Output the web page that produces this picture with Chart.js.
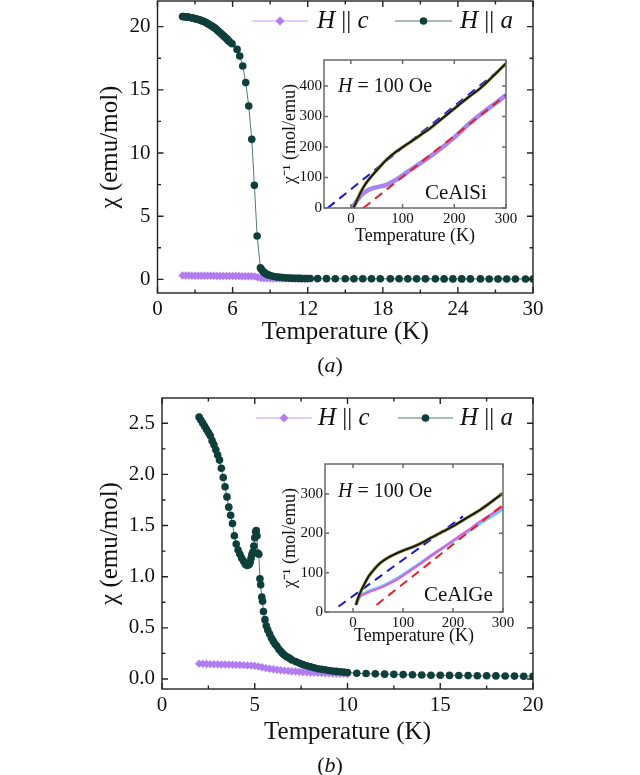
<!DOCTYPE html>
<html lang="en">
<head>
<meta charset="UTF-8">
<title>CeAlSi / CeAlGe susceptibility</title>
<style>
  body { margin: 0; background: #fff; width: 640px; height: 775px; position: relative; overflow: hidden;
         font-family: "Liberation Serif", "Times New Roman", serif; color: #111; }
  canvas { position: absolute; }
  .cap { position: absolute; width: 100px; text-align: center; font-size: 22px; line-height: 26px; }
</style>
<script src="https://cdn.jsdelivr.net/npm/chart.js"></script>
</head>
<body>
<canvas id="mainA" style="left:0;top:0" width="640" height="380"></canvas>
<canvas id="insetA" style="left:270px;top:48px" width="250" height="210"></canvas>
<div class="cap" style="left:280px;top:352px">(<i>a</i>)</div>
<canvas id="mainB" style="left:0;top:388px" width="640" height="387"></canvas>
<canvas id="insetB" style="left:270px;top:452px" width="250" height="210"></canvas>
<div class="cap" style="left:280px;top:752px">(<i>b</i>)</div>
<script>
// ---- panel (a): CeAlSi, chi vs T ----
const aT_Ha = [2.0,2.1,2.2,2.3,2.4,2.5,2.6,2.7,2.8,2.9,3.0,3.1,3.2,3.3,3.4,3.5,3.6,3.7,3.8,3.9,
  4.0,4.1,4.2,4.3,4.4,4.5,4.6,4.7,4.8,4.9,5.0,5.1,5.2,5.3,5.4,5.5,5.6,5.7,5.8,
  5.96,6.36,6.57,6.81,7.05,7.29,7.53,7.74,7.96,8.22,
  8.3,8.4,8.5,8.6,8.7,8.8,8.9,9.0,9.2,9.4,9.6,9.8,10.0,10.2,10.4,10.6,10.8,11.0,11.2,11.4,11.6,11.8,12.0,12.2,
  12.8,13.5,14.2,15.0,15.7,16.4,17.1,17.8,18.6,19.3,20.0,20.7,21.4,22.2,22.9,23.6,24.3,25.0,25.8,26.5,27.2,27.9,28.6,29.4,30.0];
const aChi_Ha = [20.80,20.79,20.78,20.77,20.75,20.74,20.72,20.70,20.68,20.66,20.63,20.61,20.58,20.55,20.52,20.48,20.45,20.41,20.37,20.31,
  20.25,20.19,20.13,20.07,20.01,19.94,19.87,19.79,19.70,19.61,19.52,19.43,19.34,19.25,19.16,19.07,18.97,18.87,18.77,
  18.65,18.20,17.68,16.89,15.57,13.72,11.08,7.44,3.43,0.92,
  0.80,0.66,0.56,0.48,0.42,0.37,0.33,0.30,0.25,0.21,0.18,0.16,0.14,0.125,0.11,0.10,0.092,0.085,0.08,0.075,0.07,0.067,0.064,0.062,
  0.058,0.055,0.052,0.05,0.048,0.046,0.045,0.044,0.043,0.042,0.041,0.04,0.039,0.038,0.037,0.036,0.035,0.035,0.034,0.033,0.033,0.032,0.032,0.031,0.031];
const aT_Hc = [2.0,2.25,2.5,2.75,3.0,3.25,3.5,3.75,4.0,4.25,4.5,4.75,5.0,5.25,5.5,5.75,6.0,6.25,6.5,6.75,
  7.0,7.25,7.5,7.75,8.0,8.25,8.5,8.75,9.0,9.25,9.5,9.75,10.0,10.25,10.5,10.75,11.0,11.25,11.5,11.75,12.0,
  12.7,15.6,18.6,21.5,24.4,27.3,30.0];
const aChi_Hc = [0.30,0.30,0.30,0.29,0.29,0.29,0.29,0.28,0.28,0.28,0.28,0.27,0.27,0.27,0.27,0.26,0.26,0.26,0.26,0.25,
  0.25,0.25,0.24,0.22,0.17,0.11,0.085,0.075,0.07,0.066,0.063,0.06,0.058,0.056,0.055,0.054,0.053,0.052,0.051,0.05,0.05,
  0.045,0.04,0.038,0.036,0.035,0.034,0.033];
const aXTicks = [0, 6, 12, 18, 24, 30];
const aYTicks = [0, 5, 10, 15, 20];

// inset (a): 1/chi vs T
const iaT_black = [5,10,17,25,33,45,56,70,88,105,121,137,153,169,185,201,217,233,250,275,300];
const iaY_black = [0,18,45,70,90,114,135,160,185,205,223,242,261,283,305,327,349,370,392,432,474];
const iaT_purple = [2,8,15,24,33,43,55,69,85,101,117,134,150,166,182,198,214,230,246,262,281,300];
const iaY_purple = [0,15,32,48,58,65,70,76,90,108,127,146,165,185,206,228,253,278,300,321,345,370];
const iaT_blueFit = [-45, 300];
const iaY_blueFit = [0, 470];
const iaT_redFit = [24, 300];
const iaY_redFit = [0, 370];
const iaXTicks = [0, 100, 200, 300];
const iaYTicks = [0, 100, 200, 300, 400];

// ---- panel (b): CeAlGe, chi vs T ----
const bT_Ha = [2.0,2.1,2.2,2.3,2.4,2.5,2.6,2.7,2.8,2.9,3.0,3.1,3.2,3.3,3.4,3.5,3.6,3.7,3.8,3.9,
  4.0,4.1,4.2,4.3,4.4,4.5,4.6,4.7,4.75,4.8,4.85,4.9,4.95,5.0,5.05,5.08,5.12,5.16,5.22,5.28,5.32,5.38,5.42,5.47,5.55,5.62,5.7,5.8,5.9,
  6.0,6.1,6.2,6.3,6.4,6.5,6.6,6.7,6.8,6.9,7.0,7.2,7.4,7.6,7.8,8.0,8.2,8.4,8.6,8.8,9.0,9.2,9.4,9.6,9.8,10.0,
  10.5,11.0,11.5,12.0,12.5,13.0,13.5,14.0,14.5,15.0,15.5,16.0,16.5,17.0,17.5,18.0,18.5,19.0,19.5,20.0];
const bChi_Ha = [2.56,2.53,2.50,2.47,2.44,2.41,2.38,2.33,2.29,2.24,2.19,2.14,2.06,1.97,1.88,1.78,1.68,1.60,1.52,1.40,
  1.32,1.26,1.22,1.18,1.15,1.12,1.11,1.12,1.14,1.18,1.22,1.24,1.30,1.38,1.44,1.45,1.40,1.23,1.22,0.98,0.92,0.80,0.76,0.66,0.58,0.52,0.48,0.44,0.40,
  0.37,0.34,0.32,0.29,0.27,0.25,0.235,0.22,0.21,0.20,0.185,0.17,0.155,0.14,0.13,0.12,0.11,0.10,0.095,0.09,0.083,0.078,0.074,0.07,0.067,0.064,
  0.056,0.053,0.05,0.047,0.045,0.043,0.041,0.039,0.037,0.036,0.035,0.034,0.033,0.032,0.031,0.03,0.029,0.028,0.027,0.026];
const bT_Hc = [2.0,2.2,2.4,2.6,2.8,3.0,3.2,3.4,3.6,3.8,4.0,4.2,4.4,4.6,4.8,5.0,5.2,5.4,5.6,5.8,
  6.0,6.2,6.4,6.6,6.8,7.0,7.2,7.4,7.6,7.8,8.0,8.2,8.4,8.6,8.8,9.0,9.2,9.4,9.6,9.8,10.0];
const bChi_Hc = [0.15,0.148,0.146,0.145,0.144,0.143,0.142,0.141,0.14,0.139,0.138,0.137,0.135,0.133,0.131,0.128,0.122,0.114,0.106,0.10,
  0.095,0.09,0.086,0.082,0.079,0.076,0.073,0.07,0.068,0.066,0.064,0.062,0.06,0.058,0.056,0.055,0.053,0.052,0.051,0.05,0.049];
const bXTicks = [0, 5, 10, 15, 20];
const bYTicks = [0, 0.5, 1.0, 1.5, 2.0, 2.5];

// inset (b)
const ibT_black = [6,10,17,24,31,42,54,70,87,104,121,138,154,170,187,204,221,238,254,277,300];
const ibY_black = [18,35,56,74,90,108,124,138,149,158,166,176,187,198,209,221,234,247,259,280,302];
const ibT_pink = [6,10,14,24,34,47,61,74,87,104,121,138,154,170,187,204,221,238,254,277,300];
const ibY_pink = [18,30,39,46,52,58,65,73,82,96,111,126,141,155,170,185,200,215,230,249,268];
const ibY_cyan = [18,30,40,48,54,60,67,75,84,98,112,127,141,155,169,183,197,211,225,243,262];
const ibT_blueFit = [-29, 220];
const ibY_blueFit = [14, 243];
const ibT_redFit = [47, 300];
const ibY_redFit = [18, 272];
const ibXTicks = [0, 100, 200, 300];
const ibYTicks = [0, 100, 200, 300];

const SERIF = '"Liberation Serif", "Times New Roman", serif';
const TEAL = '#0f3f3b';
const PURPLE = '#b27cf0';
const INK = '#111';

const pts = (xs, ys) => xs.map((x, i) => ({ x, y: ys[i] }));

// box frame with inward major/minor ticks on all four sides
function framePlugin(color, width, major, minor) {
  return {
    id: 'frame',
    afterDatasetsDraw(chart) {
      const { ctx, chartArea: a, scales: { x, y } } = chart;
      ctx.save();
      ctx.strokeStyle = color;
      ctx.lineWidth = width;
      ctx.strokeRect(a.left, a.top, a.right - a.left, a.bottom - a.top);
      const marks = (sc, vals, len) => {
        ctx.beginPath();
        vals.forEach(v => {
          const p = sc.getPixelForValue(v);
          if (sc.isHorizontal()) {
            ctx.moveTo(p, a.bottom); ctx.lineTo(p, a.bottom - len);
            ctx.moveTo(p, a.top); ctx.lineTo(p, a.top + len);
          } else {
            ctx.moveTo(a.left, p); ctx.lineTo(a.left + len, p);
            ctx.moveTo(a.right, p); ctx.lineTo(a.right - len, p);
          }
        });
        ctx.stroke();
      };
      [x, y].forEach(sc => {
        const t = sc.ticks.map(k => k.value);
        marks(sc, t, major);
        if (minor) marks(sc, t.slice(1).map((v, i) => (v + t[i]) / 2), minor);
      });
      ctx.restore();
    }
  };
}

// text in mixed italic / upright runs
function drawRuns(ctx, runs, x, y, size) {
  ctx.textBaseline = 'middle';
  ctx.textAlign = 'left';
  ctx.fillStyle = INK;
  runs.forEach(([s, it]) => {
    ctx.font = (it ? 'italic ' : '') + size + 'px ' + SERIF;
    ctx.fillText(s, x, y);
    x += ctx.measureText(s).width;
  });
}

function keyPlugin(y, items) {
  return {
    id: 'key',
    afterDraw(chart) {
      const ctx = chart.ctx;
      ctx.save();
      items.forEach(it => {
        ctx.strokeStyle = it.line;
        ctx.lineWidth = 1.2;
        ctx.beginPath(); ctx.moveTo(it.x0, y); ctx.lineTo(it.x1, y); ctx.stroke();
        ctx.fillStyle = it.color;
        ctx.beginPath();
        const m = (it.x0 + it.x1) / 2;
        if (it.shape === 'rectRot') {
          ctx.moveTo(m, y - 4.5); ctx.lineTo(m + 4.5, y); ctx.lineTo(m, y + 4.5); ctx.lineTo(m - 4.5, y);
        } else {
          ctx.arc(m, y, 3.8, 0, Math.PI * 2);
        }
        ctx.fill();
        drawRuns(ctx, [['H', true], [' || ', false], [it.sub, true]], it.tx, y, 25);
      });
      ctx.restore();
    }
  };
}

function notePlugin(notes) {
  return {
    id: 'notes',
    afterDraw(chart) {
      const ctx = chart.ctx;
      ctx.save();
      notes.forEach(n => drawRuns(ctx, n.runs, n.x, n.y, n.size));
      ctx.restore();
    }
  };
}

function axis(o) {
  return {
    type: 'linear', min: o.min, max: o.max,
    afterBuildTicks: s => { s.ticks = o.ticks.map(v => ({ value: v })); },
    afterFit: s => {
      if (o.w !== undefined) s.width = o.w;
      if (o.h !== undefined) s.height = o.h;
      // tick labels sit well inside the frame, no extra room needed
      s.paddingTop = s.paddingBottom = s.paddingLeft = s.paddingRight = 0;
    },
    grid: { display: false, drawTicks: false },
    border: { display: false },
    ticks: { padding: o.pad, color: INK, autoSkip: false, maxRotation: 0,
             font: { family: SERIF, size: o.tsize }, callback: o.fmt || (v => String(v)) },
    title: { display: true, text: o.title, color: INK, padding: 0,
             font: { family: SERIF, size: o.hsize, lineHeight: 1.2 } }
  };
}

function mainChart(id, o) {
  return new Chart(document.getElementById(id), {
    type: 'line',
    data: {
      datasets: [
        { label: 'H || a', data: o.a, order: 0, borderColor: '#4d7d78', borderWidth: 1,
          pointStyle: 'circle', pointRadius: 3.8, pointBackgroundColor: TEAL, pointBorderWidth: 0 },
        { label: 'H || c', data: o.c, order: 1, borderColor: '#cfaaf6', borderWidth: 1,
          pointStyle: 'rectRot', pointRadius: 4.2, pointBackgroundColor: PURPLE, pointBorderWidth: 0 }
      ]
    },
    options: {
      responsive: false, animation: false,
      layout: { padding: o.padding, autoPadding: false },
      plugins: { legend: { display: false }, tooltip: { enabled: false } },
      scales: {
        x: axis({ min: o.xmin, max: o.xmax, ticks: o.xt, h: o.xh, pad: 4, tsize: 21, hsize: 25, title: 'Temperature (K)' }),
        y: axis({ min: o.ymin, max: o.ymax, ticks: o.yt, w: o.yw, pad: 7, tsize: 21, hsize: 25, title: 'χ (emu/mol)', fmt: o.yfmt })
      }
    },
    plugins: [framePlugin('#222', 1.4, 6, 3.5), keyPlugin(o.keyY, o.keys)]
  });
}

function insetChart(id, o) {
  return new Chart(document.getElementById(id), {
    type: 'line',
    data: { datasets: o.sets },
    options: {
      responsive: false, animation: false,
      layout: { padding: o.padding, autoPadding: false },
      elements: { point: { radius: 0 }, line: { cubicInterpolationMode: 'monotone' } },
      plugins: { legend: { display: false }, tooltip: { enabled: false } },
      scales: {
        x: axis({ min: o.xmin, max: o.xmax, ticks: o.xt, h: o.xh, pad: 2, tsize: 15, hsize: 18, title: 'Temperature (K)' }),
        y: axis({ min: o.ymin, max: o.ymax, ticks: o.yt, w: o.yw, pad: 2, tsize: 15, hsize: 18, title: 'χ⁻¹ (mol/emu)' })
      }
    },
    plugins: [framePlugin('#6a6a6a', 1.5, 4, 0), notePlugin(o.notes)]
  });
}

// first dataset ends up on top
const line = (data, color, width, dash) => ({ data, borderColor: color, borderWidth: width, borderDash: dash || [] });

mainChart('mainA', {
  a: pts(aT_Ha, aChi_Ha), c: pts(aT_Hc, aChi_Hc),
  padding: { left: 95, right: 107, top: 1, bottom: 33 },
  xmin: 0, xmax: 30, xt: aXTicks, xh: 54,
  ymin: -1.08, ymax: 22.03, yt: aYTicks, yw: 62.5,
  keyY: 21,
  keys: [
    { x0: 252, x1: 308, tx: 317, line: '#c59cf3', color: PURPLE, shape: 'rectRot', sub: 'c' },
    { x0: 395, x1: 452, tx: 460, line: '#4d7d78', color: TEAL, shape: 'circle', sub: 'a' }
  ]
});

insetChart('insetA', {
  sets: [
    line(pts(iaT_black, iaY_black), '#151515', 1.8),
    line(pts(iaT_black, iaY_black), '#8a8636', 3.2),
    line(pts(iaT_redFit, iaY_redFit), '#e3202a', 2, [9, 6]),
    line(pts(iaT_blueFit, iaY_blueFit), '#1515d6', 2, [9, 6]),
    line(pts(iaT_purple, iaY_purple), '#c07cf2', 2),
    line(pts(iaT_purple, iaY_purple), '#8f8cf2', 4.5)
  ],
  padding: { left: 9, right: 14, top: 12, bottom: 11 },
  xmin: -52, xmax: 300, xt: iaXTicks, xh: 39,
  ymin: 0, ymax: 485, yt: iaYTicks, yw: 45,
  notes: [
    { runs: [['H', true], [' = 100 Oe', false]], x: 68, y: 39, size: 20 },
    { runs: [['CeAlSi', false]], x: 155, y: 145, size: 21 }
  ]
});

mainChart('mainB', {
  a: pts(bT_Ha, bChi_Ha), c: pts(bT_Hc, bChi_Hc),
  padding: { left: 95, right: 107, top: 10, bottom: 28 },
  xmin: 0, xmax: 20, xt: bXTicks, xh: 58,
  ymin: -0.098, ymax: 2.747, yt: bYTicks, yw: 67, yfmt: v => v.toFixed(1),
  keyY: 30,
  keys: [
    { x0: 256, x1: 312, tx: 318, line: '#c59cf3', color: PURPLE, shape: 'rectRot', sub: 'c' },
    { x0: 398, x1: 453, tx: 460, line: '#4d7d78', color: TEAL, shape: 'circle', sub: 'a' }
  ]
});

insetChart('insetB', {
  sets: [
    line(pts(ibT_black, ibY_black), '#151515', 1.8),
    line(pts(ibT_black, ibY_black), '#8a8636', 3.2),
    line(pts(ibT_redFit, ibY_redFit), '#e3202a', 2, [9, 6]),
    line(pts(ibT_blueFit, ibY_blueFit), '#1515d6', 2, [9, 6]),
    line(pts(ibT_pink, ibY_pink), '#e35ce0', 2.2),
    line(pts(ibT_pink, ibY_cyan), '#66d2ea', 3.2)
  ],
  padding: { left: 9, right: 17, top: 12, bottom: 15 },
  xmin: -56, xmax: 300, xt: ibXTicks, xh: 35,
  ymin: 0, ymax: 376, yt: ibYTicks, yw: 46,
  notes: [
    { runs: [['H', true], [' = 100 Oe', false]], x: 68, y: 40, size: 20 },
    { runs: [['CeAlGe', false]], x: 154, y: 143, size: 21 }
  ]
});
</script>
</body>
</html>
